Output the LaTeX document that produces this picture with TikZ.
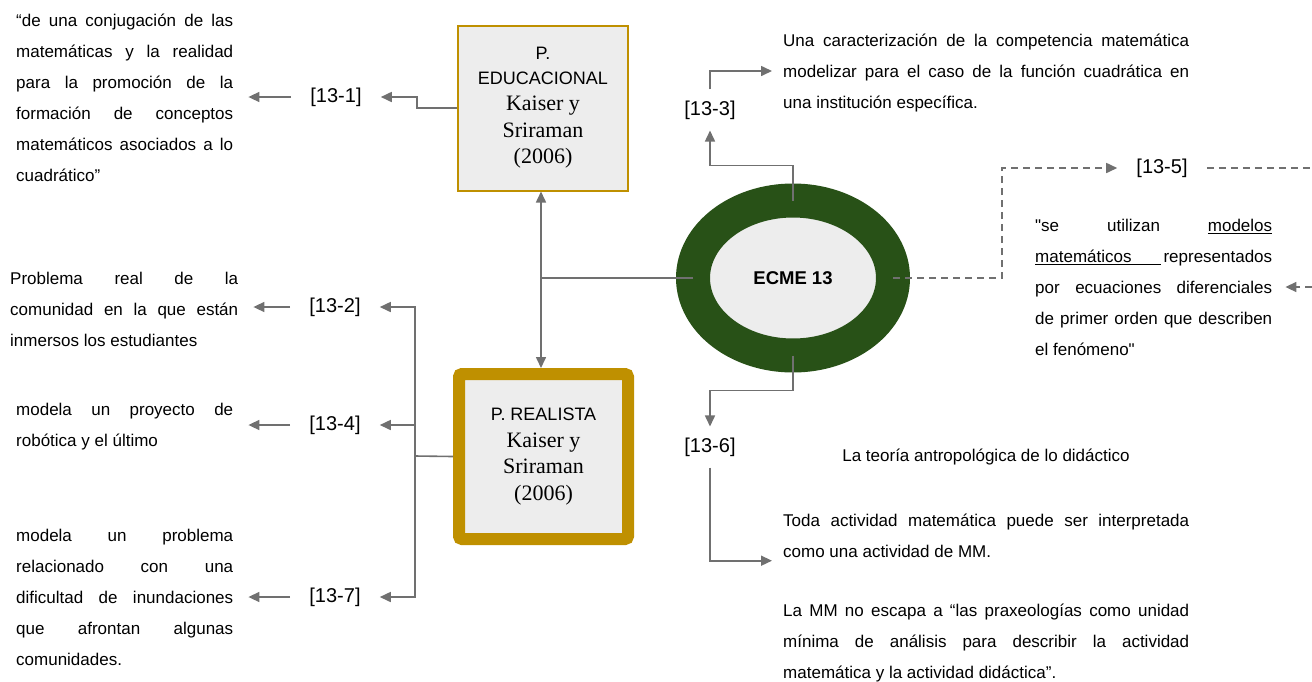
\documentclass[tikz,border=0pt]{standalone}
\usepackage{fontspec}
\setmainfont{Liberation Sans}[Ligatures=TeXOff]
\newfontfamily\timesf{Liberation Serif}
\usetikzlibrary{shapes.geometric,arrows.meta}
\definecolor{linegray}{HTML}{707070}
\definecolor{ecgreen}{HTML}{285117}
\definecolor{boxgold}{HTML}{BF9000}
\definecolor{boxgray}{HTML}{EDEDED}
% justified row / last row of a text block
\newcommand{\jrow}[2][217pt]{\makebox[#1][s]{\strut #2}}
\newcommand{\lrow}[2][217pt]{\makebox[#1][l]{\strut #2}}
\newcommand{\bxs}[1]{{\normalfont\fontsize{18}{26.5}\selectfont #1}}
\begin{document}
\begin{tikzpicture}[x=1pt,y=-1pt,
  txt/.style={anchor=north west,inner sep=0,align=left,font=\fontsize{17}{31}\selectfont},
  lbl/.style={inner xsep=19pt,inner ysep=11pt,font=\fontsize{20}{24}\selectfont},
  ln/.style={draw=linegray,line width=1.6pt},
  arr/.style={ln,-{Triangle[length=11pt,width=10pt]}},
  dln/.style={ln,dash pattern=on 7pt off 5pt},
  darr/.style={dln,-{Triangle[length=11pt,width=10pt]}},
  bx/.style={fill=boxgray,draw=boxgold,minimum width=170pt,minimum height=165pt,
    inner sep=0,align=center,font=\timesf\fontsize{22}{26.5}\selectfont}]
\useasboundingbox (0,0) rectangle (1312,681);

% the two perspectives and the study
\node[bx,line width=2pt] (edu) at (543,108)
  {\bxs{P.}\\[-2pt]\bxs{EDUCACIONAL}\\Kaiser y\\Sriraman\\(2006)};
\node[bx,line width=12pt,rounded corners=3pt,minimum width=169pt] (real) at (543.5,456.5)
  {\bxs{P. REALISTA}\\Kaiser y\\Sriraman\\(2006)};
\node[ellipse,draw=ecgreen,line width=34pt,fill=boxgray,minimum width=200pt,
  minimum height=155pt,inner sep=0,outer sep=0,
  font=\bfseries\fontsize{18.5}{22}\selectfont] (ecme) at (793,278) {ECME 13};

% codes
\node[lbl] (l1) at (336,97) {[13-1]};
\node[lbl] (l2) at (335,307) {[13-2]};
\node[lbl] (l4) at (335,425) {[13-4]};
\node[lbl] (l7) at (335,597) {[13-7]};
\node[lbl] (l3) at (710,110) {[13-3]};
\node[lbl] (l6) at (710,447) {[13-6]};
\node[lbl] (l5) at (1162,168) {[13-5]};

% quotes
\node[txt] (t1) at (16,4.3) {\jrow{“de una conjugación de las}\\
  \jrow{matemáticas y la realidad}\\\jrow{para la promoción de la}\\
  \jrow{formación de conceptos}\\\jrow{matemáticos asociados a lo}\\
  \lrow{cuadrático”}};
\node[txt] (t2) at (10,262.3) {\jrow[228pt]{Problema real de la}\\
  \jrow[228pt]{comunidad en la que están}\\\lrow[228pt]{inmersos los estudiantes}};
\node[txt] (t4) at (16,393.3) {\jrow{modela un proyecto de}\\\lrow{robótica y el último}};
\node[txt] (t7) at (16,519.3) {\jrow{modela un problema}\\\jrow{relacionado con una}\\
  \jrow{dificultad de inundaciones}\\\jrow{que afrontan algunas}\\\lrow{comunidades.}};
\node[txt] (t3) at (783,24.3) {\jrow[406pt]{Una caracterización de la competencia matemática}\\
  \jrow[406pt]{modelizar para el caso de la función cuadrática en}\\
  \lrow[406pt]{una institución específica.}};
\node[txt] (t5) at (1035,209.3) {\jrow[237pt]{"se utilizan \underline{modelos}}\\
  \jrow[237pt]{\underline{\makebox[126pt][l]{matemáticos}}\hfill representados}\\
  \jrow[237pt]{por ecuaciones diferenciales}\\\jrow[237pt]{de primer orden que describen}\\
  \lrow[237pt]{el fenómeno"}};
\node[font=\fontsize{17}{31}\selectfont] (tad) at (986,457) {La teoría antropológica de lo didáctico};
\node[txt] (t6a) at (783,504.3) {\jrow[406pt]{Toda actividad matemática puede ser interpretada}\\
  \lrow[406pt]{como una actividad de MM.}};
\node[txt] (t6b) at (783,594.3) {\jrow[406pt]{La MM no escapa a “las praxeologías como unidad}\\
  \jrow[406pt]{mínima de análisis para describir la actividad}\\
  \lrow[406pt]{matemática y la actividad didáctica”.}};

% connectors
\coordinate (jn) at (541,278);
\coordinate (rj) at (415,456);
\coordinate (re1) at (1312,168);
\coordinate (re2) at (1312,287);
\draw[ln] (ecme.west) -- (jn);
\draw[arr] (jn) -- (jn |- edu.south);
\draw[arr] (jn) -- (jn |- real.north);
\draw[arr] (edu.west) -- ++(-40,0) |- (l1.east);
\draw[ln] (real.west) -- (rj);
\draw[arr] (rj) |- (l2.east);
\draw[arr] (rj) |- (l4.east);
\draw[arr] (rj) |- (l7.east);
\draw[arr,shorten >=15pt] (l1.west) -- (l1.west -| t1.east);
\draw[arr,shorten >=15pt] (l2.west) -- (l2.west -| t2.east);
\draw[arr,shorten >=15pt] (l4.west) -- (l4.west -| t4.east);
\draw[arr,shorten >=15pt] (l7.west) -- (l7.west -| t7.east);
\draw[arr] (ecme.north) -- ++(0,-35) -| (l3.south);
\draw[arr,shorten >=11pt] (l3.north) |- (t3.west);
\draw[arr] (ecme.south) -- ++(0,35) -| (l6.north);
\draw[arr,shorten >=11pt] (l6.south) |- ([yshift=6pt]t6a.south west);
\draw[darr] (ecme.east) -- ++(109,0) |- (l5.west);
\draw[dln] (l5.east) -- (re1);
\draw[darr,shorten >=13pt] (re2) -- (re2 -| t5.east);
\end{tikzpicture}
\end{document}
